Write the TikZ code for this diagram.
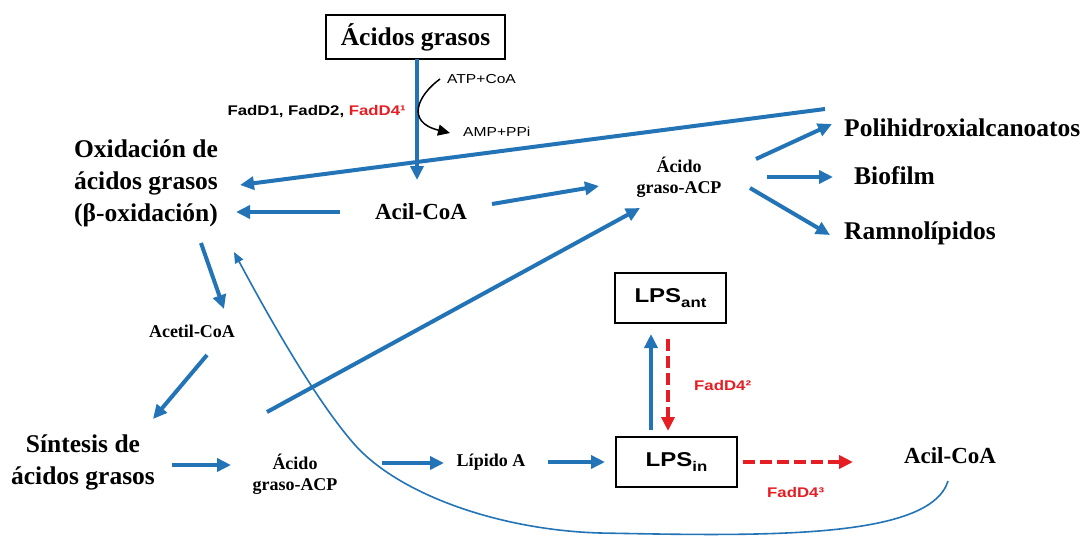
\documentclass[tikz,border=0pt]{standalone}
\usepackage{fontspec}
\setmainfont{Liberation Serif}
\newfontfamily\lblfont{Liberation Sans}[FakeStretch=1.2]
\usetikzlibrary{arrows.meta,calc}

\definecolor{pathblue}{RGB}{35,116,182}
\definecolor{fadred}{RGB}{230,30,35}

\begin{document}
\begin{tikzpicture}[x=1pt,y=-1pt,
    big/.style={font=\bfseries\fontsize{25.5}{32}\selectfont,align=center,inner sep=0pt},
    mid/.style={font=\bfseries\fontsize{23}{28}\selectfont,inner sep=0pt},
    small/.style={font=\bfseries\fontsize{18}{21}\selectfont,align=center,inner sep=0pt},
    enz/.style={font=\lblfont\fontsize{13}{15}\selectfont,inner sep=0pt},
    enzred/.style={font=\lblfont\bfseries\fontsize{14}{16}\selectfont,text=fadred,inner sep=0pt},
    lpsbox/.style={draw,line width=2pt,inner sep=0pt,minimum height=50pt,
      font=\lblfont\bfseries\fontsize{20}{24}\selectfont},
    flow/.style={pathblue,line width=4pt,-{Triangle[length=14pt,width=13pt]}},
    fad/.style={fadred,line width=4pt,dash pattern=on 12pt off 5pt,
      -{Triangle[length=14pt,width=13pt]}},
    back/.style={pathblue,line width=1.6pt,-{Triangle[length=11pt,width=9pt]}},
  ]
    %% Fatty acid metabolism

    % Frame
    \fill[white] (0,0) rectangle (1089,536);
    \useasboundingbox (0,0) rectangle (1089,536);

    % Nodes
    \node (fa) at (415.5,37) [big,draw,line width=2pt,minimum width=179pt,minimum height=44pt] {Ácidos grasos};
    \node (ox) at (146,183) [big] {Oxidación de\\ácidos grasos\\(β-oxidación)};
    \node (acil) at (421,212) [mid] {Acil-CoA};
    \node (acpup) at (679,177) [small] {Ácido\\graso-ACP};
    \node (pha) at (844,128) [big,anchor=west] {Polihidroxialcanoatos};
    \node (bio) at (854,176) [big,anchor=west] {Biofilm};
    \node (ramno) at (844,233) [big,anchor=west] {Ramnolípidos};
    \node (acet) at (192,331) [small] {Acetil-CoA};
    \node (sint) at (83,462) [big] {Síntesis de\\ácidos grasos};
    \node (acplow) at (295,474) [small] {Ácido\\graso-ACP};
    \node (lipa) at (491,462) [small] {Lípido A};
    \node (lpsin) at (676.5,462) [lpsbox,minimum width=121pt]
      {LPS{\fontsize{14}{14}\selectfont\raisebox{-5pt}{in}}};
    \node (lpsant) at (670.5,298) [lpsbox,minimum width=111pt]
      {LPS{\fontsize{14}{14}\selectfont\raisebox{-5pt}{ant}}};
    \node (acilr) at (950,456) [mid] {Acil-CoA};

    % Enzyme labels
    \node (atp) at (447,79) [enz,anchor=west] {ATP+CoA};
    \node (amp) at (463,132) [enz,anchor=west] {AMP+PPi};
    \node (fadd) at (406,112) [enzred,text=black,anchor=east]
      {FadD1, FadD2, \textcolor{fadred}{FadD4¹}};
    \node (fadb) at (694,385) [enzred,anchor=west] {FadD4²};
    \node (fadc) at (767,492) [enzred,anchor=west] {FadD4³};

    % Activation of fatty acids
    \draw[flow]
    ($(fa)+(1.5,22)$)
    -- ($(acil)+(-4,-32)$);

    \draw[black,line width=1.5pt,-{Triangle[length=12pt,width=11pt]}]
    ($(atp.west)+(-7,0)$)
    .. controls (418,95) and (405,122) .. ($(amp.west)+(-13,1)$);

    % Towards beta-oxidation
    \coordinate (phastart) at (825,109);
    \draw[flow]
    (phastart)
    -- ($(ox)+(94,2)$);

    \draw[flow]
    ($(acil)+(-81,0)$)
    -- ($(ox)+(90,29)$);

    % Acyl-ACP and its products
    \draw[flow]
    ($(acil)+(71,-8)$)
    -- ($(acpup)+(-80,9)$);

    \draw[flow]
    ($(acpup)+(77,-18)$)
    -- ($(pha.west)+(-12,-4)$);

    \draw[flow]
    ($(acpup)+(88,0)$)
    -- ($(bio.west)+(-21,1)$);

    \draw[flow]
    ($(acpup)+(71,11)$)
    -- ($(ramno.west)+(-14,2)$);

    % Acetyl-CoA cycle
    \draw[flow]
    ($(ox)+(55,60)$)
    -- ($(acet)+(32,-22)$);

    \draw[flow]
    ($(acet)+(15,24)$)
    -- ($(sint)+(70,-43)$);

    \draw[flow]
    ($(sint)+(89,3)$)
    -- ($(acplow)+(-64,-9)$);

    \draw[flow]
    ($(acplow)+(-28,-62)$)
    -- ($(acpup)+(-39,31)$);

    % Lipid A and LPS
    \draw[flow]
    ($(acplow)+(87,-11)$)
    -- ($(lipa)+(-47,1)$);

    \draw[flow]
    ($(lipa)+(57,0)$)
    -- ($(lpsin.west)+(-10,0)$);

    \draw[flow]
    ($(lpsin.north)+(-25.5,-6)$)
    -- ($(lpsant.south)+(-19.5,10)$);

    \draw[fad]
    ($(lpsant.south)+(-2.5,15)$)
    -- ($(lpsin.north)+(-8.5,-5)$);

    \draw[fad]
    ($(lpsin.east)+(5,0)$)
    -- ($(acilr)+(-97,6)$);

    % Recycled acyl-CoA
    \draw[back]
    ($(acilr)+(-2,25)$)
    .. controls (930,540) and (760,536) .. (600,533)
    .. controls (500,530) and (400,495) .. (355,445)
    .. controls (315,400) and (265,310) .. ($(ox)+(88,69)$);

\end{tikzpicture}
\end{document}
